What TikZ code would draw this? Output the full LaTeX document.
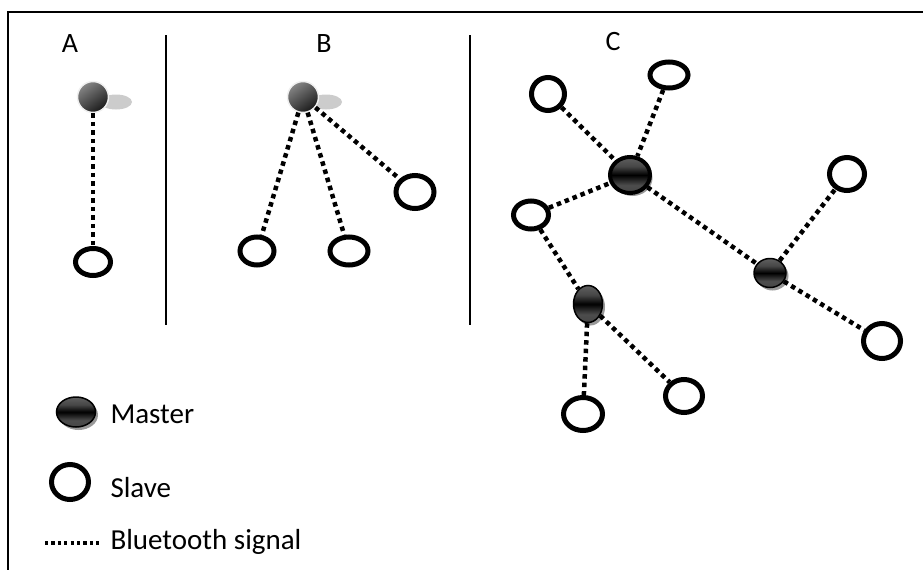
\documentclass[tikz,border=0pt]{standalone}
\usepackage{fontspec}
\setmainfont{Carlito}
\usetikzlibrary{shapes.geometric,shadows}
\pgfdeclareverticalshading{btn}{100bp}{color(0bp)=(black); color(25bp)=(gray!55!black); color(36bp)=(gray!60!black); color(50bp)=(black); color(62bp)=(gray!55!black); color(75bp)=(gray!75!black); color(100bp)=(gray!75!black)}
\tikzset{
  slave/.style={ellipse, draw=black, fill=white, line width=5pt, inner sep=0pt},
  master/.style={ellipse, draw=black, shading=btn, inner sep=0pt,
    drop shadow={shadow xshift=2.5pt, shadow yshift=-3pt, fill=gray!80, opacity=1}},
  ball/.style={circle, draw=gray!12, line width=1.5pt, inner sep=0pt, minimum size=31pt,
    top color=gray!95, bottom color=black!90, shading angle=35},
  bt/.style={line width=4.5pt, dash pattern=on 4.5pt off 4pt},
  lbl/.style={font=\fontsize{28}{32}\selectfont},
  leg/.style={font=\fontsize{29}{33}\selectfont, anchor=west},
  divider/.style={line width=1.3pt}
}
\begin{document}
\begin{tikzpicture}[x=1pt,y=-1pt]
\useasboundingbox (0,0) rectangle (923,570);
% frame
\coordinate (f1) at (923,12);
\coordinate (f2) at (8,12);
\coordinate (f3) at (8,570);
\draw[line width=1.5pt] (f1) -- (f2) -- (f3);
% dividers
\coordinate (d1a) at (166,35); \coordinate (d1b) at (166,325);
\coordinate (d2a) at (470,35); \coordinate (d2b) at (470,325);
\draw[divider] (d1a) -- (d1b);
\draw[divider] (d2a) -- (d2b);
% labels
\node[lbl] (la) at (70,44) {A};
\node[lbl] (lb) at (324,44) {B};
\node[lbl] (lc) at (613,42) {C};

% ---- A ----
\fill[gray!40] (116,102) ellipse (16pt and 7.5pt);
\node[ball] (am) at (93,97) {};
\node[slave, minimum width=35pt, minimum height=27pt] (as) at (93,262) {};
\draw[bt] (am) -- (as);

% ---- B ----
\fill[gray!40] (326,102) ellipse (16pt and 7.5pt);
\node[ball] (bm) at (303,97) {};
\node[slave, minimum width=34pt, minimum height=28pt] (bs1) at (257,251) {};
\node[slave, minimum width=38pt, minimum height=28pt] (bs2) at (349,251) {};
\node[slave, minimum width=38pt, minimum height=33pt] (bs3) at (415,192) {};
\draw[bt] (bm) -- (bs1);
\draw[bt] (bm) -- (bs2);
\draw[bt] (bm) -- (bs3);

% ---- C ----
\node[master, line width=4pt, minimum width=40pt, minimum height=36pt] (m1) at (630,175) {};
\node[master, line width=1.5pt, minimum width=32pt, minimum height=29pt] (m2) at (770,273) {};
\node[master, line width=1.5pt, minimum width=29pt, minimum height=37pt] (m3) at (588,304) {};
\node[slave, minimum width=33pt, minimum height=33pt] (c1) at (548,94) {};
\node[slave, minimum width=38pt, minimum height=26pt] (c2) at (669,75) {};
\node[slave, minimum width=35pt, minimum height=33pt] (c3) at (847,174) {};
\node[slave, minimum width=35pt, minimum height=28pt] (c4) at (531,215) {};
\node[slave, minimum width=37pt, minimum height=35pt] (c5) at (882,341) {};
\node[slave, minimum width=37pt, minimum height=33pt] (c6) at (684,396) {};
\node[slave, minimum width=39pt, minimum height=33pt] (c7) at (583,414) {};
\draw[bt] (c1) -- (m1);
\draw[bt] (c2) -- (m1);
\draw[bt] (c4) -- (m1);
\draw[bt] (m1) -- (m2);
\draw[bt] (m2) -- (c3);
\draw[bt] (m2) -- (c5);
\draw[bt] (c4) -- (m3);
\draw[bt] (m3) -- (c7);
\draw[bt] (m3) -- (c6);

% ---- legend ----
\node[master, line width=1.5pt, minimum width=39pt, minimum height=30pt] (lm) at (76,412) {};
\node[leg] (tm) at (107,414) {Master};
\node[slave, minimum width=37pt, minimum height=35pt] (ls) at (70,482) {};
\node[leg] (ts) at (107,488) {Slave};
\coordinate (b1) at (45,543);
\coordinate (b2) at (102,543);
\draw[line width=3.5pt, dash pattern=on 3.2pt off 3.2pt] (b1) -- (b2);
\node[leg] (tb) at (107,542) {Bluetooth signal};
\end{tikzpicture}
\end{document}
